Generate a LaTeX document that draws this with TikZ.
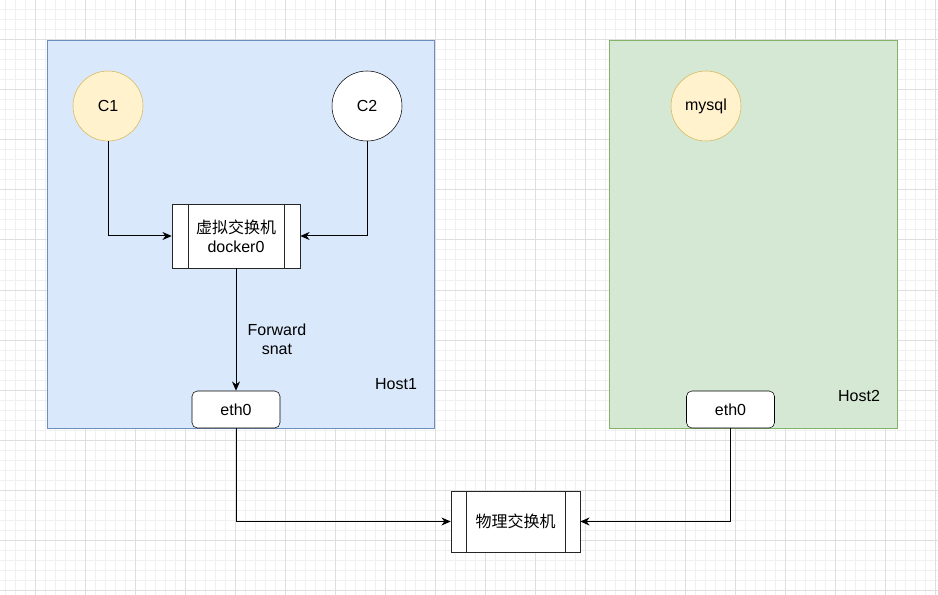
\documentclass[tikz,border=0pt]{standalone}
\usepackage{fontspec}
\setmainfont{Liberation Sans}
\newfontfamily\cjk{Noto Sans CJK SC}
\usetikzlibrary{arrows.meta, positioning}

\definecolor{hostblue}{HTML}{DAE8FC}
\definecolor{hostbluel}{HTML}{6C8EBF}
\definecolor{hostgreen}{HTML}{D5E8D4}
\definecolor{hostgreenl}{HTML}{82B366}
\definecolor{contfill}{HTML}{FFF2CC}
\definecolor{contline}{HTML}{D6B656}
\definecolor{gridminor}{HTML}{F0F0F0}
\definecolor{gridmajor}{HTML}{DEDEDE}

\begin{document}
\begin{tikzpicture}[x=0.75pt,y=-0.75pt,font=\fontsize{12pt}{14.25pt}\selectfont,
  container/.style={circle,draw=contline,fill=contfill,minimum size=70*0.75pt,inner sep=0pt},
  plaincont/.style={circle,draw=black,fill=white,minimum size=70*0.75pt,inner sep=0pt},
  iface/.style={rectangle,rounded corners=4pt,draw=black,fill=white,
    minimum width=88*0.75pt,minimum height=37*0.75pt,inner sep=0pt},
  switchbox/.style={rectangle,draw=black!85,fill=white,align=center,inner sep=0pt,
    path picture={
      \draw[black!85] ([xshift=#1]path picture bounding box.north west) -- ([xshift=#1]path picture bounding box.south west);
      \draw[black!85] ([xshift=-#1]path picture bounding box.north east) -- ([xshift=-#1]path picture bounding box.south east);}},
  link/.style={draw=black,line width=0.75pt,-{Stealth[length=7pt,width=6pt]}}]

  \useasboundingbox (0,0) rectangle (938,595);
  \fill[white] (0,0) rectangle (938,595);

  % grid
  \foreach \gx in {5,15,...,935} \draw[gridminor,line width=0.75pt] (\gx,0) -- (\gx,595);
  \foreach \gy in {0,10,...,590} \draw[gridminor,line width=0.75pt] (0,\gy) -- (938,\gy);
  \foreach \gx in {35,85,...,935} \draw[gridmajor,line width=0.75pt] (\gx,0) -- (\gx,595);
  \foreach \gy in {40,90,...,590} \draw[gridmajor,line width=0.75pt] (0,\gy) -- (938,\gy);

  % hosts
  \draw[hostbluel,fill=hostblue,line width=0.75pt] (47,41) rectangle (434,428);
  \draw[hostgreenl,fill=hostgreen,line width=0.75pt] (609,41) rectangle (897,428);
  \node (host1) at (396,384) {Host1};
  \node (host2) at (859,396) {Host2};

  % nodes
  \node[container] (c1) at (108,106) {C1};
  \node[plaincont] (c2) at (367,106) {C2};
  \node[container] (mysql) at (706,106) {mysql};
  \node[switchbox=16*0.75pt,minimum width=128*0.75pt,minimum height=64*0.75pt] (docker) at (236,236)
    {{\cjk 虚拟交换机}\\docker0};
  \node[iface] (eth1) at (236,409.5) {eth0};
  \node[iface] (eth2) at (730.5,409.5) {eth0};
  \node[switchbox=15*0.75pt,minimum width=129*0.75pt,minimum height=61*0.75pt] (phys) at (515.5,521.5)
    {\cjk 物理交换机};

  % links
  \draw[link] (c1.south) |- (docker.west);
  \draw[link] (c2.south) |- (docker.east);
  \draw[link] (docker.south) -- node[pos=0.58,right=5pt,align=center] {Forward\\snat} (eth1.north);
  \draw[link] (eth1.south) |- (phys.west);
  \draw[link] (eth2.south) |- (phys.east);
\end{tikzpicture}
\end{document}
